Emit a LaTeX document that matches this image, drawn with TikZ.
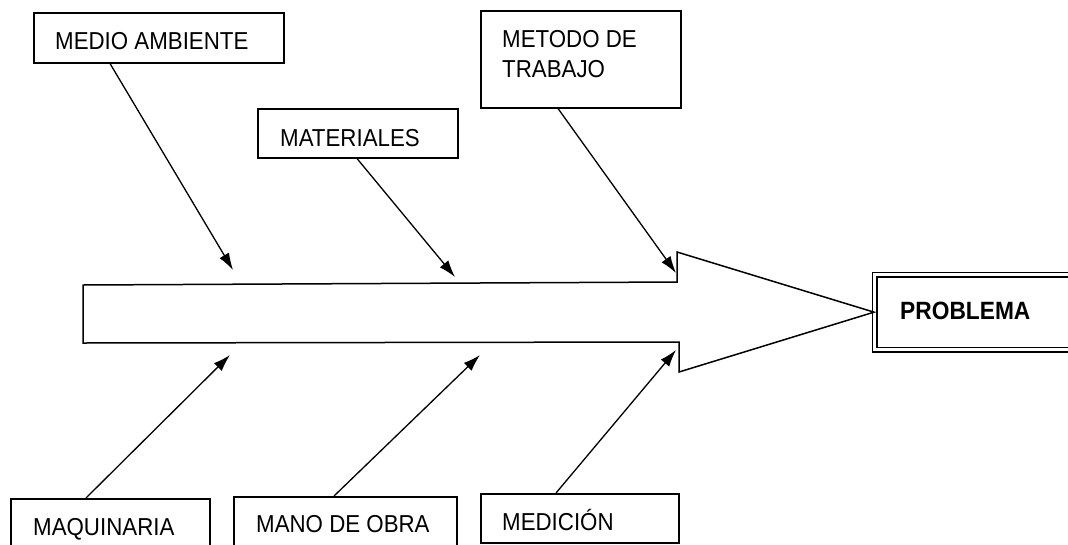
\documentclass[tikz,border=0pt]{standalone}
\usepackage{fontspec}
\setmainfont{Liberation Sans}[FakeStretch=0.91]
\usetikzlibrary{arrows.meta}
\begin{document}
\begin{tikzpicture}[x=1pt, y=-1pt,
    caja/.style={draw, line width=1.5pt, inner sep=0pt, anchor=north west},
    texto/.style={font=\fontsize{24.5}{30}\selectfont, inner sep=0pt, anchor=base west, align=left},
    flecha/.style={-{Latex[length=17pt,width=11pt]}, line width=1.3pt}]
    % marco de la figura
    \useasboundingbox (0,0) rectangle (1068,544);
    \clip (0,0) rectangle (1068,544);

    % cajas de arriba
    \node[caja, minimum width=250pt, minimum height=50pt] (medio) at (33,12) {};
    \node[caja, minimum width=200pt, minimum height=49pt] (materiales) at (257,108) {};
    \node[caja, minimum width=200pt, minimum height=97pt] (metodo) at (480,10) {};

    % cajas de abajo
    \node[caja, minimum width=199pt, minimum height=60pt] (maquinaria) at (10,498) {};
    \node[caja, minimum width=223pt, minimum height=60pt] (mano) at (233,496) {};
    \node[caja, minimum width=198pt, minimum height=49pt] (medicion) at (480,493) {};

    % caja del problema (doble borde)
    \node[caja, line width=1.3pt, double, double distance=3.4pt, minimum width=210pt, minimum height=75pt] (problema) at (874,274) {};

    % textos de las cajas
    \node[texto] (t-medio) at (55,49) {MEDIO AMBIENTE};
    \node[texto] (t-materiales) at (280,146) {MATERIALES};
    \node[texto, anchor=north west] (t-metodo) at (502,30) {METODO DE\\TRABAJO};
    \node[texto] (t-maquinaria) at (33,535) {MAQUINARIA};
    \node[texto] (t-mano) at (256,532) {MANO DE OBRA};
    \node[texto] (t-medicion) at (502,530) {MEDICIÓN};
    \node[texto, font=\fontsize{25}{30}\selectfont\bfseries] (t-problema) at (900,319) {PROBLEMA};

    % flecha grande (espina)
    \draw[line width=1.5pt] (83,285) -- (677,282) -- (677,252) -- (problema.west)
        -- (679,372) -- (679,342) -- (83,343) -- cycle;

    % puntos de llegada sobre la espina
    \coordinate (c-medio) at (233,270);
    \coordinate (c-materiales) at (455,277);
    \coordinate (c-metodo) at (676,273);
    \coordinate (c-maquinaria) at (230,355);
    \coordinate (c-mano) at (480,355);
    \coordinate (c-medicion) at (676,350);

    % flechas de las causas
    \draw[flecha] ([xshift=77pt]medio.south west) -- (c-medio);
    \draw[flecha] ([xshift=100pt]materiales.south west) -- (c-materiales);
    \draw[flecha] ([xshift=78pt]metodo.south west) -- (c-metodo);
    \draw[flecha] ([xshift=76pt]maquinaria.north west) -- (c-maquinaria);
    \draw[flecha] ([xshift=101pt]mano.north west) -- (c-mano);
    \draw[flecha] ([xshift=76pt]medicion.north west) -- (c-medicion);
\end{tikzpicture}
\end{document}
